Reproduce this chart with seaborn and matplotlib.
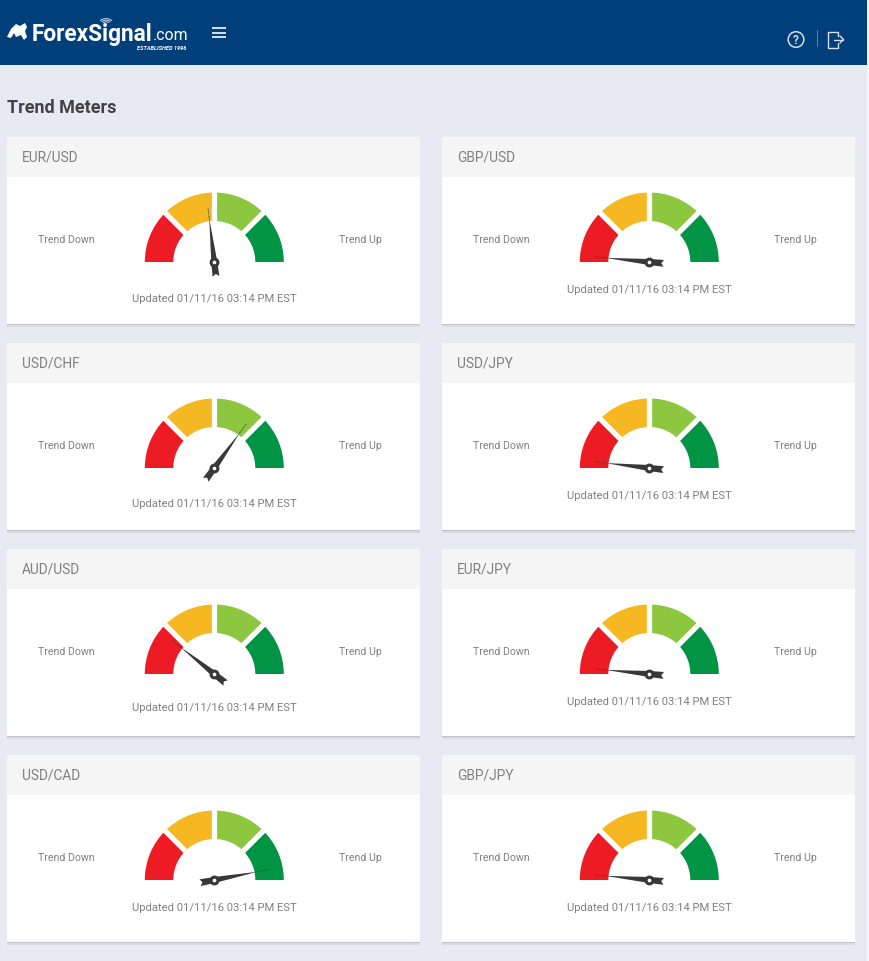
import numpy as np
import pandas as pd
import matplotlib
matplotlib.use("Agg")
import matplotlib.pyplot as plt
from matplotlib.patches import Wedge, Rectangle, Polygon, Arc, Circle
import seaborn as sns

pairs = ["EUR/USD", "GBP/USD", "USD/CHF", "USD/JPY", "AUD/USD", "EUR/JPY", "USD/CAD", "GBP/JPY"]
# meter reading: 0 = far left (Trend Down), 100 = far right (Trend Up)
readings = [46.3, 3.0, 70.0, 3.6, 21.4, 3.0, 94.0, 3.0]
updated_y = [298, 289, 503, 495, 707, 701, 907, 907]
updated_label = "Updated 01/11/16 03:14 PM EST"
zone_colors = ["#ED1C24", "#F5B722", "#8DC63F", "#009444"]
zone_edges = [0, 25, 50, 75, 100]

BG = "#E7EAF2"
NAVY = "#003F7A"
GREY = "#808080"
DARK = "#424242"

sns.set_theme(style="white")
plt.rcParams["font.family"] = ["Roboto", "DejaVu Sans"]

fig = plt.figure(figsize=(8.69, 9.62), dpi=100, facecolor=BG)
ax = fig.add_axes([0, 0, 1, 1])
YLIM = (961, -1)
ax.set_xlim(0, 869)
ax.set_ylim(*YLIM)
ax.axis("off")

def val2ang(v):
    return np.deg2rad(180 * (1 - v / 100))

# page header
ax.add_patch(Rectangle((0, -2), 869, 66.5, color=NAVY, zorder=1, lw=0))
ax.add_patch(Rectangle((866.5, -2), 2.5, 966, color="#F4F5F8", zorder=5, lw=0))
ax.text(32, 39.5, "ForexSignal", color="white", fontsize=16.3, fontweight="bold", va="baseline", ha="left", zorder=3)
ax.text(152.5, 39.5, ".com", color="white", fontsize=11.4, va="baseline", ha="left", zorder=3)
ax.text(186, 47.2, "ESTABLISHED 1996", color="white", fontsize=4.1, style="italic", fontweight="bold", va="center", ha="right", zorder=3)
ax.add_patch(Polygon([(7, 37), (11, 29), (16, 24), (20, 26), (25, 23), (27, 27), (25, 31), (27, 37), (24, 40), (21, 35), (16, 37), (14, 33), (11, 38)],
                     color="white", lw=0, zorder=3))
for d in (8, 12, 16):
    ax.add_patch(Arc((106, 25), d, d * 0.8, theta1=215, theta2=325, color="#C8D6E6", lw=0.7, zorder=3))
for y in (28, 32.5, 37):
    ax.plot([212, 226], [y, y], color="#E6ECF4", lw=1.3, zorder=3, solid_capstyle="butt")
ax.add_patch(Circle((796, 39.5), 7.8, fill=False, ec="#D5DEEA", lw=1.1, zorder=3))
ax.text(796, 39.5, "?", color="#D5DEEA", fontsize=8.5, fontweight="bold", ha="center", va="center", zorder=3)
ax.plot([817, 817], [30, 46], color="#5F86AE", lw=0.7, zorder=3)
ax.plot([838, 838, 828, 828, 838, 838], [36, 31.5, 31.5, 47.5, 47.5, 43], color="#D5DEEA", lw=1.0, zorder=3)
ax.plot([834, 843], [39.5, 39.5], color="#D5DEEA", lw=1.0, zorder=3)
ax.plot([840, 843.5, 840], [36, 39.5, 43], color="#D5DEEA", lw=1.0, zorder=3)

ax.text(7, 107, "Trend Meters", color=DARK, fontsize=12.95, fontweight="bold", va="center", ha="left", zorder=3)

palette = sns.color_palette(zone_colors)
hubs = []
for i, (pair, value, uy) in enumerate(zip(pairs, readings, updated_y)):
    col, row = i % 2, i // 2
    x0 = 7 + col * 435
    y0 = 137 + row * 206
    w, h = 413, 187
    cx = x0 + 207.3
    cy = y0 + 125

    # card with soft shadow
    for off, c in ((2.5, "#D9DCE3"), (1.3, "#BFC2C9")):
        ax.add_patch(Rectangle((x0 - 0.3, y0 + off), w + 0.6, h, color=c, lw=0, zorder=1))
    ax.add_patch(Rectangle((x0, y0), w, h, color="white", lw=0, zorder=2))
    ax.add_patch(Rectangle((x0, y0), w, 40, color="#F5F5F5", lw=0, zorder=2))
    ax.text(x0 + 15, y0 + 19.8, pair, color=GREY, fontsize=9.9, va="center", ha="left", zorder=3)

    ax.text(x0 + 59.5, cy - 23, "Trend Down", color=GREY, fontsize=7.6, va="center", ha="center", zorder=3)
    ax.text(x0 + 353.5, cy - 23, "Trend Up", color=GREY, fontsize=7.6, va="center", ha="center", zorder=3)
    ax.text(cx, uy, updated_label, color=GREY, fontsize=8.15, va="center", ha="center", zorder=3)

    # meter zones
    R, r = 69.5, 41
    for lo, hi, color in zip(zone_edges[:-1], zone_edges[1:], palette):
        a1, a2 = np.rad2deg(val2ang(hi)), np.rad2deg(val2ang(lo))
        ax.add_patch(Wedge((cx, cy), R, -a2, -a1, width=R - r, color=color, lw=0, zorder=3))
    for e in zone_edges[1:-1]:
        a = val2ang(e)
        ax.plot([cx + (r - 2) * np.cos(a), cx + (R + 2) * np.cos(a)],
                [cy - (r - 2) * np.sin(a), cy - (R + 2) * np.sin(a)],
                color="white", lw=3.8, zorder=4, solid_capstyle="butt")

    # needle
    a = val2ang(value)
    u = np.array([np.cos(a), -np.sin(a)])
    n = np.array([np.sin(a), np.cos(a)])
    c = np.array([cx, cy])
    L = 54.5
    pts = [c + u * 44, c + n * 3.0, c - u * 14.5 + n * 3.4, c - u * 12, c - u * 14.5 - n * 3.4, c - n * 3.0]
    ax.add_patch(Polygon(pts, color="#383838", lw=0, zorder=5))
    ax.plot(*zip(c + u * 43, c + u * L), color="#383838", lw=0.6, ls=(0, (1.5, 1)), zorder=5)
    hubs.append((cx, cy))

hub_df = pd.DataFrame(hubs, columns=["x", "y"])
sns.scatterplot(data=hub_df, x="x", y="y", ax=ax, s=24, color="white", edgecolor="#383838",
                linewidth=2.2, zorder=6, legend=False)
ax.set_xlim(0, 869)
ax.set_ylim(*YLIM)
ax.axis("off")

fig.savefig("out.png", dpi=100, facecolor=BG)
